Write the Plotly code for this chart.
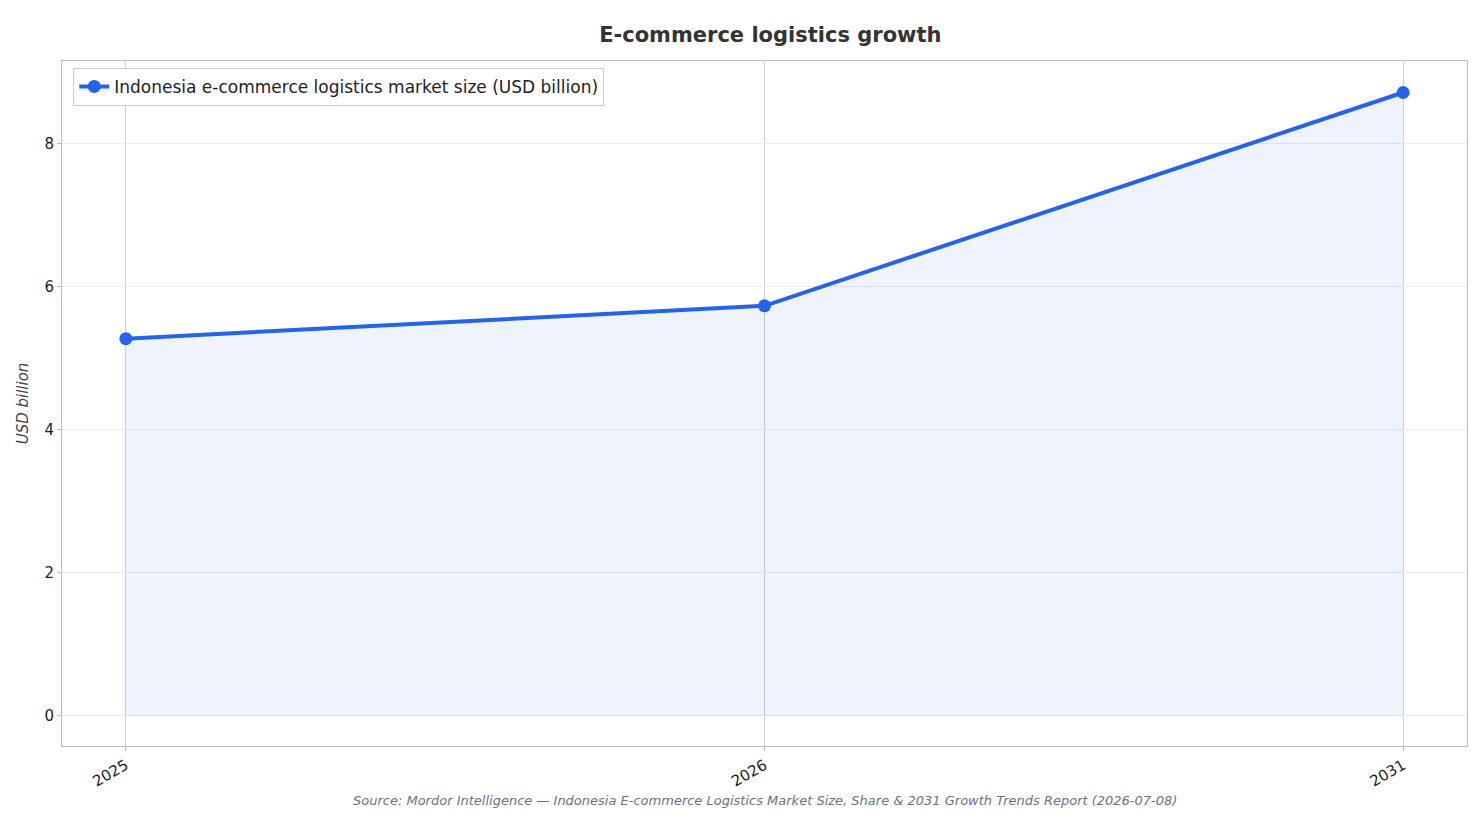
import plotly.graph_objects as go

years = ["2025", "2026", "2031"]
market_size = [5.27, 5.73, 8.71]
series_name = "Indonesia e-commerce logistics market size (USD billion)"
source_note = ("Source: Mordor Intelligence — Indonesia E-commerce Logistics Market Size, "
               "Share & 2031 Growth Trends Report (2026-07-08)")

fig = go.Figure()
fig.add_trace(go.Scatter(
    x=years, y=market_size, name=series_name, mode="lines+markers",
    line=dict(color="#2563eb", width=4), marker=dict(size=13, color="#2563eb"),
    fill="tozeroy", fillcolor="rgba(37,99,235,0.08)",
))

# page body has an 8px margin, so shrink the figure to fit the window
fig.update_layout(
    width=1466, height=808,
    paper_bgcolor="white", plot_bgcolor="white",
    font=dict(family="DejaVu Sans", size=15, color="#222"),
    title=dict(text="<b>E-commerce logistics growth</b>", x=0.52, y=0.976,
               font=dict(size=21, color="#333")),
    margin=dict(l=54, r=7, t=53, b=70),
    showlegend=True,
    legend=dict(x=0.008, y=0.99, xanchor="left", yanchor="top",
                bgcolor="white", bordercolor="#ccc", borderwidth=1,
                font=dict(size=17, color="#222")),
)
fig.update_xaxes(type="category", range=[-0.1, 2.1], tickangle=-30,
                 showgrid=True, gridcolor="#cfcfd6", gridwidth=1,
                 showline=True, linecolor="#bbb", mirror=True,
                 ticks="outside", ticklen=4, tickcolor="#bbb")
fig.update_yaxes(range=[-0.42, 9.15], dtick=2,
                 title=dict(text="<i>USD billion</i>", font=dict(size=15, color="#444"),
                            standoff=12),
                 showgrid=True, gridcolor="#ececec", zeroline=False,
                 showline=True, linecolor="#bbb", mirror=True,
                 ticks="outside", ticklen=4, tickcolor="#bbb")
fig.add_annotation(text=f"<i>{source_note}</i>", xref="paper", yref="paper",
                   x=0.5, y=-0.065, showarrow=False, yanchor="top",
                   font=dict(size=13, color="#6b7280"))

fig.write_html("out.html")
